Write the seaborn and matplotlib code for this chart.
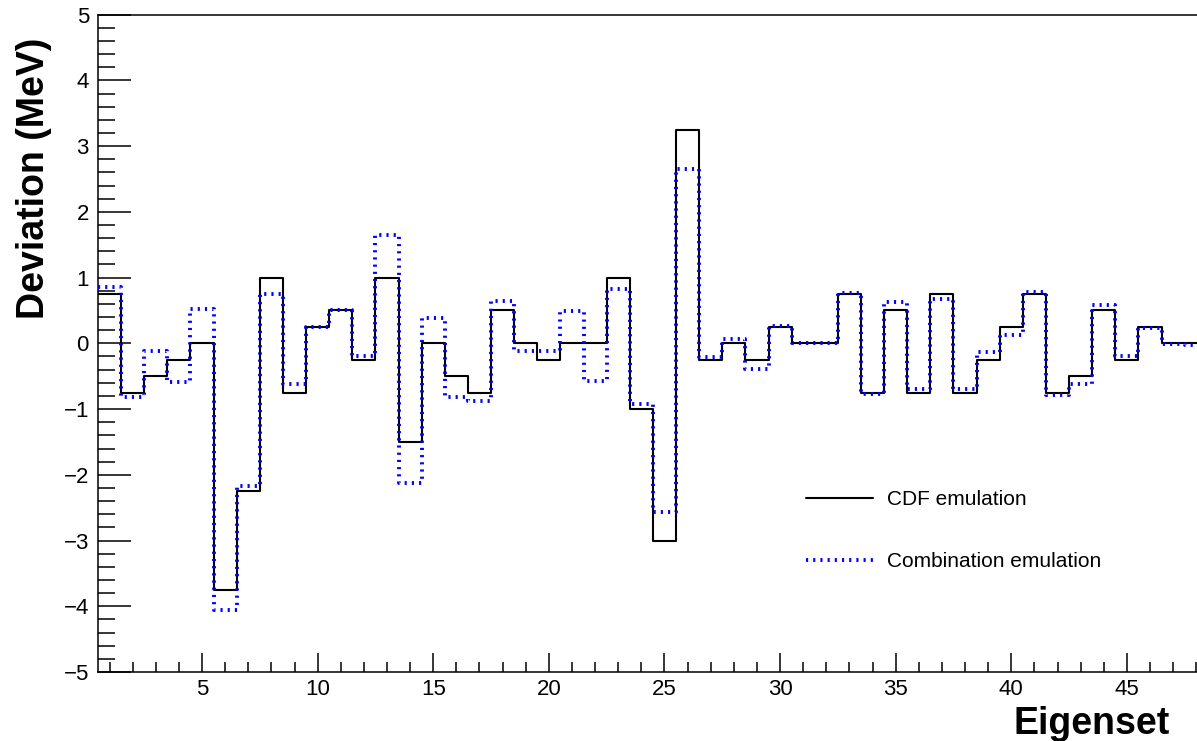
import numpy as np
import pandas as pd
import matplotlib
matplotlib.use("Agg")
import matplotlib.pyplot as plt
import seaborn as sns
from matplotlib.ticker import MultipleLocator

# Deviation per eigenset (MeV)
eigensets = list(range(1, 49))
cdf_emulation = [
    0.75, -0.75, -0.5, -0.25, 0.0, -3.75, -2.25, 1.0, -0.75, 0.25,
    0.5, -0.25, 1.0, -1.5, 0.0, -0.5, -0.75, 0.5, 0.0, -0.25,
    0.0, 0.0, 1.0, -1.0, -3.0, 3.25, -0.25, 0.0, -0.25, 0.25,
    0.0, 0.0, 0.75, -0.75, 0.5, -0.75, 0.75, -0.75, -0.25, 0.25,
    0.75, -0.75, -0.5, 0.5, -0.25, 0.25, 0.0, 0.0,
]
combination_emulation = [
    0.85, -0.82, -0.12, -0.59, 0.52, -4.06, -2.17, 0.75, -0.62, 0.25,
    0.5, -0.19, 1.65, -2.13, 0.38, -0.81, -0.88, 0.64, -0.11, -0.11,
    0.49, -0.57, 0.83, -0.92, -2.56, 2.65, -0.21, 0.06, -0.39, 0.26,
    0.0, 0.0, 0.76, -0.77, 0.63, -0.69, 0.67, -0.69, -0.13, 0.13,
    0.78, -0.79, -0.62, 0.59, -0.2, 0.23, -0.01, -0.03,
]
series_labels = ["CDF emulation", "Combination emulation"]
x_title = "Eigenset"
y_title = "Deviation (MeV)"

df = pd.DataFrame({
    "eigenset": eigensets,
    "cdf": cdf_emulation,
    "comb": combination_emulation,
})

sns.set_theme(style="white")
plt.rcParams["font.family"] = ["Liberation Sans", "DejaVu Sans"]
plt.rcParams["text.color"] = "black"
plt.rcParams["axes.labelcolor"] = "black"

W, H = 1197, 741
fig = plt.figure(figsize=(W / 100, H / 100), dpi=100)
# plot frame in pixels: left 98, bottom 672, top 15; x runs to 48.5 just past the right edge
ax_left, ax_right, ax_top, ax_bottom = 98.0, 1207.8, 14.7, 672.0
ax = fig.add_axes([ax_left / W, (H - ax_bottom) / H,
                   (ax_right - ax_left) / W, (ax_bottom - ax_top) / H])

bin_range = (0.5, len(eigensets) + 0.5)

sns.histplot(data=df, x="eigenset", weights="cdf", binwidth=1, binrange=bin_range,
             element="step", fill=False, color="black", linewidth=1.5, ax=ax)
line_cdf = ax.lines[-1]
sns.histplot(data=df, x="eigenset", weights="comb", binwidth=1, binrange=bin_range,
             element="step", fill=False, color="#0000ff", linewidth=2.8,
             linestyle=(0, (0.55, 1.3)), ax=ax)
line_comb = ax.lines[-1]
line_cdf.set_zorder(3)
line_comb.set_zorder(4)

ax.set_xlim(0.5, 48.5)
ax.set_ylim(-5, 5)

ax.xaxis.set_major_locator(MultipleLocator(5))
ax.xaxis.set_minor_locator(MultipleLocator(1))
ax.yaxis.set_major_locator(MultipleLocator(1))
ax.yaxis.set_minor_locator(MultipleLocator(0.2))

ax.tick_params(axis="both", which="both", direction="in", colors="black",
               width=1.1, labelsize=16)
ax.tick_params(axis="x", which="major", length=13.9, pad=5)
ax.tick_params(axis="x", which="minor", length=7.2)
ax.tick_params(axis="y", which="major", length=23.8, pad=6.5)
ax.tick_params(axis="y", which="minor", length=12.2)
ax.tick_params(bottom=True, left=True, top=False, right=False, which="both")

for s in ax.spines.values():
    s.set_color("black")
    s.set_linewidth(1.1)
ax.spines["right"].set_visible(False)

ax.set_xlabel(x_title, fontsize=27, fontweight="bold", loc="right")
ax.xaxis.set_label_coords((1170 - ax_left) / (ax_right - ax_left),
                          -(706 - ax_bottom) / (ax_bottom - ax_top))
ax.set_ylabel(y_title, fontsize=27, fontweight="bold", loc="top")
ax.yaxis.label.set_va("center")
ax.yaxis.set_label_coords((34 - ax_left) / (ax_right - ax_left),
                          (ax_bottom - 38) / (ax_bottom - ax_top))

ax.legend(handles=[line_cdf, line_comb], labels=series_labels,
          loc="upper left",
          bbox_to_anchor=((806 - ax_left) / (ax_right - ax_left),
                          (ax_bottom - 490) / (ax_bottom - ax_top)),
          frameon=False, fontsize=15, handlelength=3.2, handletextpad=0.67,
          labelspacing=2.07, borderpad=0, borderaxespad=0)

ax.grid(False)
fig.savefig("out.png", dpi=100)
